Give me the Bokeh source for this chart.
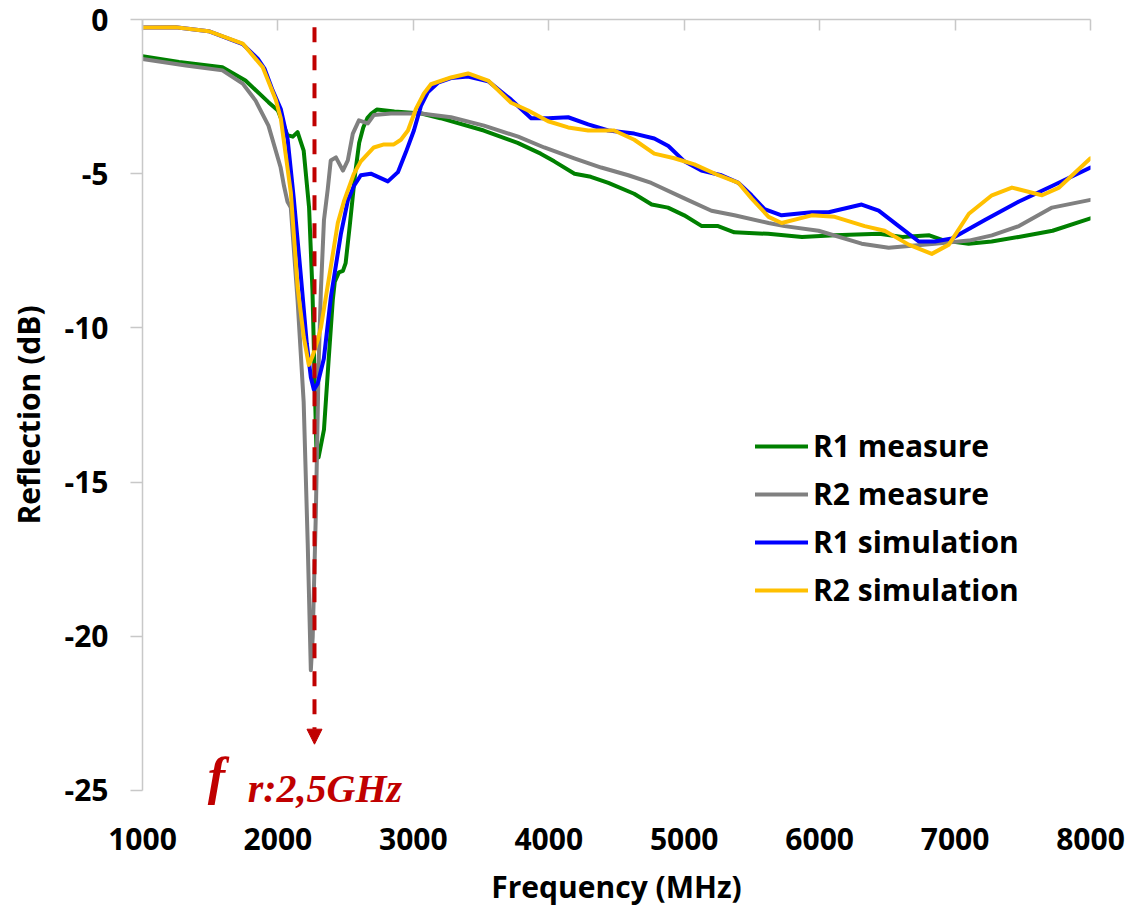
from bokeh.plotting import figure
from bokeh.models import (Range1d, LinearAxis, FixedTicker, Legend, LegendItem,
                          Arrow, NormalHead, Label)
from bokeh.embed import file_html
from bokeh.resources import INLINE

# ---------------- data ----------------
r1_meas_f = [1000, 1270, 1590, 1760, 1930, 2000, 2070, 2110, 2145, 2190, 2230, 2255, 2270, 2285, 2300,
             2340, 2375, 2405, 2420, 2450, 2480, 2500, 2530, 2570, 2600, 2630, 2660, 2690, 2730, 2860,
             3060, 3200, 3520, 3770, 3940, 4040, 4190, 4310, 4440, 4630, 4760, 4880, 5000, 5130, 5250,
             5370, 5620, 5870, 6110, 6440, 6610, 6810, 6920, 7100, 7270, 7470, 7720, 8000]
r1_meas_db = [-1.19, -1.38, -1.55, -1.98, -2.68, -2.95, -3.75, -3.8, -3.65, -4.25, -6.1, -8.8, -11.5, -14.1, -14.2,
              -13.3, -11.0, -9.1, -8.5, -8.2, -8.15, -7.9, -6.7, -5.0, -4.0, -3.5, -3.2, -3.05, -2.92, -2.98,
              -3.05, -3.2, -3.6, -4.0, -4.35, -4.6, -5.0, -5.1, -5.3, -5.65, -6.0, -6.1, -6.35, -6.7, -6.7,
              -6.9, -6.95, -7.05, -7.0, -6.95, -7.05, -7.0, -7.17, -7.27, -7.2, -7.05, -6.85, -6.45]

r2_meas_f = [1000, 1320, 1590, 1740, 1835, 1930, 2020, 2045, 2070, 2095, 2145, 2190, 2220, 2243, 2257,
             2280, 2300, 2317, 2340, 2368, 2390, 2428, 2480, 2516, 2553, 2598, 2664, 2708, 2834, 3056,
             3278, 3522, 3774, 3966, 4188, 4387, 4587, 4757, 5001, 5201, 5371, 5623, 5741, 5992, 6310,
             6510, 6850, 7102, 7272, 7472, 7716, 8000]
r2_meas_db = [-1.28, -1.49, -1.65, -2.08, -2.63, -3.44, -4.8, -5.4, -5.9, -6.1, -9.1, -12.4, -17.0, -21.1, -20.0,
              -16.0, -11.3, -8.8, -6.5, -5.5, -4.57, -4.47, -4.9, -4.57, -3.7, -3.27, -3.37, -3.1, -3.05, -3.05,
              -3.17, -3.44, -3.8, -4.15, -4.5, -4.8, -5.05, -5.3, -5.8, -6.2, -6.35, -6.6, -6.7, -6.85, -7.27,
              -7.4, -7.27, -7.17, -7.0, -6.7, -6.1, -5.85]

r1_sim_f = [1000, 1244, 1488, 1740, 1851, 1902, 1961, 2021, 2072, 2117, 2169, 2213, 2243, 2265, 2294,
            2339, 2391, 2465, 2516, 2561, 2612, 2686, 2812, 2886, 2945, 3004, 3056, 3108, 3182, 3278,
            3404, 3552, 3722, 3870, 3995, 4143, 4291, 4439, 4631, 4779, 4883, 5001, 5127, 5275, 5401,
            5497, 5593, 5719, 5941, 6066, 6310, 6436, 6584, 6732, 6850, 6976, 7220, 7472, 7716, 8000]
r1_sim_db = [-0.26, -0.25, -0.38, -0.8, -1.27, -1.6, -2.3, -2.9, -3.9, -5.8, -8.3, -10.5, -11.6, -12.0, -11.8,
             -11.0, -9.0, -6.95, -5.87, -5.4, -5.05, -5.0, -5.25, -4.95, -4.3, -3.6, -2.8, -2.35, -2.05, -1.9,
             -1.85, -2.0, -2.6, -3.2, -3.2, -3.17, -3.4, -3.6, -3.7, -3.86, -4.1, -4.6, -4.9, -5.05, -5.3,
             -5.7, -6.15, -6.35, -6.25, -6.25, -6.0, -6.2, -6.7, -7.2, -7.2, -7.1, -6.5, -5.9, -5.4, -4.8]

r2_sim_f = [1000, 1244, 1488, 1740, 1888, 1984, 2021, 2095, 2146, 2191, 2228, 2257, 2294, 2317, 2354,
            2391, 2442, 2487, 2561, 2612, 2708, 2783, 2856, 2908, 2960, 3019, 3078, 3130, 3278, 3404,
            3552, 3722, 3848, 3995, 4143, 4291, 4483, 4631, 4779, 4927, 5075, 5253, 5401, 5497, 5623,
            5719, 5941, 6111, 6333, 6480, 6658, 6828, 6954, 7102, 7272, 7420, 7642, 7768, 8000]
r2_sim_db = [-0.26, -0.25, -0.38, -0.78, -1.55, -2.6, -3.2, -5.6, -8.7, -10.3, -11.2, -10.9, -10.4, -10.0, -9.0,
             -8.0, -6.6, -5.9, -5.0, -4.6, -4.15, -4.05, -4.05, -3.9, -3.6, -2.9, -2.4, -2.1, -1.88, -1.75,
             -1.98, -2.7, -2.95, -3.3, -3.5, -3.6, -3.6, -3.9, -4.35, -4.5, -4.7, -5.05, -5.3, -5.8, -6.4,
             -6.6, -6.35, -6.4, -6.7, -6.85, -7.3, -7.6, -7.3, -6.3, -5.7, -5.45, -5.7, -5.45, -4.5]

series_names = ["R1 measure", "R2 measure", "R1 simulation", "R2 simulation"]
x_ticks = [1000, 2000, 3000, 4000, 5000, 6000, 7000, 8000]
y_ticks = [0, -5, -10, -15, -20, -25]
resonance_freq = 2270          # MHz, dashed marker
resonance_text_main = "f"
resonance_text_sub = "r:2,5GHz"

# ---------------- styling ----------------
colors = ["#008000", "#808080", "#0000FF", "#FFC000"]
FONT = "Open Sans"
AXIS_GRAY = "#C8C8C8"
RED = "#C00000"

p = figure(frame_width=948, frame_height=791,
           min_border_left=142, min_border_right=42, min_border_top=19, min_border_bottom=103,
           x_range=Range1d(1000, 8000), y_range=Range1d(-25.65, 0),
           output_backend="svg", toolbar_location=None,
           x_axis_location=None, y_axis_location=None)
p.outline_line_color = None
p.xgrid.visible = False
p.ygrid.visible = False
p.background_fill_color = "white"
p.border_fill_color = "white"

# left axis (line limited to 0 .. -25)
yax = LinearAxis(ticker=FixedTicker(ticks=y_ticks), axis_label="Reflection (dB)",
                 bounds=(min(y_ticks), max(y_ticks)))
yax.major_label_overrides = {t: str(t) for t in y_ticks}
yax.axis_line_color = AXIS_GRAY
yax.axis_line_width = 1.5
yax.major_tick_line_color = AXIS_GRAY
yax.major_tick_line_width = 1.5
yax.major_tick_out = 12
yax.major_tick_in = 0
yax.minor_tick_line_color = None
yax.major_label_standoff = 22
yax.major_label_text_font = FONT
yax.major_label_text_font_style = "bold"
yax.major_label_text_font_size = "30px"
yax.major_label_text_color = "black"
yax.axis_label_text_font = FONT
yax.axis_label_text_font_style = "bold"
yax.axis_label_text_font_size = "30px"
yax.axis_label_text_color = "black"
yax.axis_label_standoff = 13
p.add_layout(yax, "left")

# top axis line (x axis crossing at 0 dB), ticks pointing down, no labels
tax = LinearAxis(ticker=FixedTicker(ticks=x_ticks))
tax.axis_line_color = AXIS_GRAY
tax.axis_line_width = 1.5
tax.major_tick_line_color = AXIS_GRAY
tax.major_tick_line_width = 1.5
tax.major_tick_in = 11
tax.major_tick_out = 0
tax.minor_tick_line_color = None
tax.major_label_text_font_size = "0px"
tax.major_label_text_color = None
tax.major_label_standoff = 0
p.add_layout(tax, "above")

# bottom labels (low position)
bax = LinearAxis(ticker=FixedTicker(ticks=x_ticks), axis_label="Frequency (MHz)")
bax.axis_line_color = None
bax.major_tick_line_color = None
bax.minor_tick_line_color = None
bax.major_tick_out = 0
bax.major_tick_in = 0
bax.major_label_standoff = 17
bax.major_label_text_font = FONT
bax.major_label_text_font_style = "bold"
bax.major_label_text_font_size = "30px"
bax.major_label_text_color = "black"
bax.axis_label_text_font = FONT
bax.axis_label_text_font_style = "bold"
bax.axis_label_text_font_size = "30px"
bax.axis_label_text_color = "black"
bax.axis_label_standoff = 13
p.add_layout(bax, "below")

# resonance marker
p.add_layout(Arrow(end=NormalHead(size=15, fill_color=RED, line_color=RED),
                   x_start=resonance_freq, y_start=-0.25, x_end=resonance_freq, y_end=-23.5,
                   line_color=RED, line_width=4, line_dash="15 13"))

# curves
renderers = []
for fx, fy, c in [(r1_meas_f, r1_meas_db, colors[0]), (r2_meas_f, r2_meas_db, colors[1]),
                  (r1_sim_f, r1_sim_db, colors[2]), (r2_sim_f, r2_sim_db, colors[3])]:
    r = p.line(fx, fy, line_color=c, line_width=4, line_join="round", line_cap="round")
    renderers.append(r)

p.add_layout(Label(x=1481, y=-24.54, text=resonance_text_main, text_font="Liberation Serif",
                   text_font_style="bold italic", text_font_size="52px", text_color=RED,
                   text_baseline="alphabetic"))
p.add_layout(Label(x=1777, y=-24.94, text=resonance_text_sub, text_font="Liberation Serif",
                   text_font_style="bold italic", text_font_size="40px", text_color=RED,
                   text_baseline="alphabetic"))

legend = Legend(items=[LegendItem(label=n, renderers=[r]) for n, r in zip(series_names, renderers)],
                location=(613, 200), padding=0, margin=0, spacing=7,
                glyph_width=53, glyph_height=40, label_height=40, label_standoff=5,
                label_text_font=FONT, label_text_font_style="bold", label_text_font_size="30px",
                label_text_color="black", border_line_color=None, background_fill_alpha=0)
p.add_layout(legend)

open("out.html", "w").write(file_html(p, INLINE))
